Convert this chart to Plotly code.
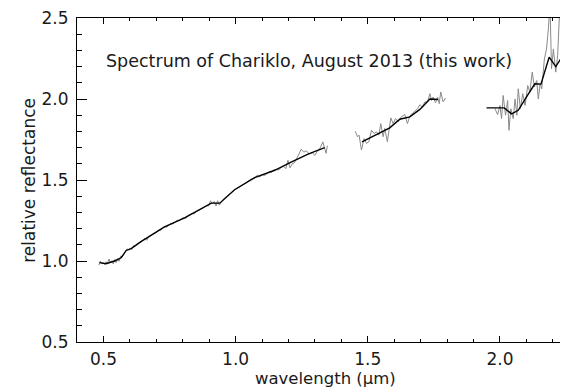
import plotly.graph_objects as go

# ---- data: visible spectrum (gray, raw) ----
vis_wl = [0.483, 0.488, 0.493, 0.499, 0.504, 0.510, 0.515, 0.521, 0.526, 0.532, 0.537, 0.543,
          0.548, 0.554, 0.559, 0.565, 0.571, 0.577, 0.583, 0.589, 0.595, 0.601, 0.607, 0.614,
          0.621, 0.628, 0.635, 0.642, 0.650, 0.657, 0.664, 0.671, 0.679, 0.686, 0.694, 0.701,
          0.709, 0.716, 0.724, 0.731, 0.739, 0.747, 0.755, 0.763, 0.771, 0.779, 0.787, 0.795,
          0.803, 0.811, 0.819, 0.827, 0.835, 0.843, 0.851, 0.859, 0.867, 0.875, 0.883, 0.891,
          0.898, 0.905, 0.912, 0.919, 0.926, 0.932, 0.938, 0.945, 0.953, 0.961, 0.969, 0.977,
          0.985, 0.993, 1.001, 1.010, 1.019, 1.028, 1.037, 1.046, 1.055, 1.064, 1.073, 1.082,
          1.091, 1.100, 1.109, 1.118, 1.127, 1.136, 1.145, 1.154, 1.163, 1.172, 1.181, 1.190,
          1.198, 1.206, 1.214, 1.222, 1.230, 1.238, 1.248, 1.258, 1.268, 1.278, 1.290, 1.300,
          1.310, 1.320, 1.330, 1.337, 1.342, 1.347]
vis_refl = [0.975, 1.000, 0.985, 0.990, 0.978, 0.995, 0.982, 1.012, 0.990, 1.002, 0.982, 1.010,
            0.990, 1.015, 0.998, 1.030, 1.025, 1.045, 1.060, 1.075, 1.068, 1.080, 1.072, 1.095,
            1.092, 1.108, 1.112, 1.118, 1.130, 1.140, 1.128, 1.150, 1.158, 1.165, 1.172, 1.178,
            1.192, 1.188, 1.205, 1.212, 1.208, 1.222, 1.232, 1.228, 1.240, 1.252, 1.248, 1.262,
            1.268, 1.262, 1.280, 1.285, 1.295, 1.290, 1.305, 1.312, 1.315, 1.325, 1.335, 1.342,
            1.340, 1.372, 1.352, 1.368, 1.340, 1.372, 1.345, 1.365, 1.380, 1.392, 1.405, 1.412,
            1.422, 1.435, 1.445, 1.452, 1.462, 1.470, 1.482, 1.494, 1.500, 1.508, 1.512, 1.530,
            1.518, 1.535, 1.528, 1.538, 1.552, 1.548, 1.562, 1.566, 1.562, 1.578, 1.585, 1.570,
            1.622, 1.575, 1.600, 1.605, 1.628, 1.655, 1.690, 1.672, 1.680, 1.660, 1.668, 1.652,
            1.680, 1.698, 1.735, 1.700, 1.665, 1.712]

# ---- data: H band (gray, raw) ----
h_wl = [1.453, 1.461, 1.467, 1.476, 1.486, 1.495, 1.504, 1.514, 1.524, 1.533, 1.542, 1.549,
        1.558, 1.564, 1.574, 1.587, 1.596, 1.605, 1.615, 1.627, 1.640, 1.650, 1.659, 1.668,
        1.678, 1.688, 1.697, 1.706, 1.716, 1.726, 1.735, 1.741, 1.747, 1.756, 1.764, 1.770,
        1.776, 1.785, 1.794]
h_refl = [1.801, 1.767, 1.777, 1.685, 1.756, 1.726, 1.736, 1.807, 1.787, 1.797, 1.777, 1.848,
          1.767, 1.818, 1.736, 1.883, 1.848, 1.879, 1.859, 1.890, 1.904, 1.848, 1.896, 1.910,
          1.920, 1.940, 1.965, 1.951, 1.982, 1.982, 2.033, 1.991, 2.012, 1.977, 2.012, 1.971,
          2.043, 1.982, 2.006]

# ---- data: K band (gray, raw) ----
k_wl = [1.981, 1.991, 2.000, 2.006, 2.012, 2.021, 2.029, 2.034, 2.041, 2.050, 2.057, 2.064,
        2.069, 2.077, 2.086, 2.095, 2.105, 2.113, 2.122, 2.130, 2.139, 2.145, 2.152, 2.158,
        2.168, 2.176, 2.183, 2.189, 2.195, 2.202, 2.211, 2.218, 2.227, 2.233, 2.240, 2.246,
        2.252, 2.259, 2.265, 2.271, 2.278]
k_refl = [1.940, 1.904, 1.960, 1.879, 2.022, 1.900, 1.991, 1.807, 1.940, 1.879, 2.000, 1.900,
          2.063, 1.940, 2.033, 1.960, 2.083, 2.043, 2.166, 2.074, 2.114, 2.000, 2.094, 2.063,
          2.247, 2.309, 2.431, 2.600, 2.186, 2.309, 2.166, 2.267, 2.600, 2.145, 2.600, 2.083,
          2.600, 2.104, 2.600, 2.145, 2.600]

# ---- data: smoothed spectrum (black) ----
vis_s_wl = [0.485, 0.510, 0.542, 0.567, 0.586, 0.605, 0.642, 0.731, 0.807, 0.870, 0.908, 0.940,
            0.996, 1.072, 1.148, 1.210, 1.274, 1.337]
vis_s_refl = [0.990, 0.983, 1.000, 1.020, 1.065, 1.077, 1.120, 1.210, 1.266, 1.320, 1.357, 1.357,
              1.440, 1.515, 1.560, 1.610, 1.660, 1.700]
h_s_wl = [1.478, 1.514, 1.583, 1.621, 1.659, 1.697, 1.735, 1.766]
h_s_refl = [1.736, 1.767, 1.822, 1.875, 1.890, 1.936, 2.000, 1.997]
k_s_wl = [1.949, 2.016, 2.044, 2.069, 2.107, 2.132, 2.155, 2.186, 2.211, 2.246, 2.262]
k_s_refl = [1.945, 1.945, 1.908, 1.930, 2.030, 2.094, 2.092, 2.258, 2.200, 2.288, 2.330]

x_ticks = [0.5, 1.0, 1.5, 2.0]
x_tick_labels = ["0.5", "1.0", "1.5", "2.0"]
y_ticks = [0.5, 1.0, 1.5, 2.0, 2.5]
y_tick_labels = ["0.5", "1.0", "1.5", "2.0", "2.5"]

GRAY = "#8a8a8a"
FONT = "DejaVu Sans"
TXT = "#1a1a1a"

fig = go.Figure()
for wl, rf in [(vis_wl, vis_refl), (h_wl, h_refl), (k_wl, k_refl)]:
    fig.add_trace(go.Scatter(x=wl, y=rf, mode="lines",
                             line=dict(color=GRAY, width=1), showlegend=False, hoverinfo="skip"))
for wl, rf in [(vis_s_wl, vis_s_refl), (h_s_wl, h_s_refl), (k_s_wl, k_s_refl)]:
    fig.add_trace(go.Scatter(x=wl, y=rf, mode="lines",
                             line=dict(color="black", width=1.4), showlegend=False))

fig.add_annotation(x=0.504, y=2.235, xref="x", yref="y", xanchor="left", yanchor="middle",
                   text="Spectrum of Chariklo, August 2013 (this work)", showarrow=False,
                   font=dict(family=FONT, size=17.5, color=TXT))
# axis titles
fig.add_annotation(x=0.5, y=-0.114, xref="paper", yref="paper", xanchor="center", yanchor="middle",
                   text="wavelength (μm)", showarrow=False,
                   font=dict(family=FONT, size=16.5, color=TXT))
fig.add_annotation(x=-0.097, y=0.5, xref="paper", yref="paper", xanchor="center", yanchor="middle",
                   text="relative reflectance", showarrow=False, textangle=-90,
                   font=dict(family=FONT, size=17, color=TXT))

axis_common = dict(showgrid=False, zeroline=False, showline=True, linecolor="black",
                   linewidth=1, mirror="ticks", ticks="inside", tickcolor="black",
                   tickwidth=1, automargin=False, ticklabeloverflow="allow",
                   tickfont=dict(family=FONT, size=17, color=TXT))

fig.update_xaxes(range=[0.4, 2.28], tickvals=x_ticks, ticktext=x_tick_labels, ticklen=6,
                 minor=dict(dtick=0.1, ticklen=3, tickcolor="black", ticks="inside"),
                 ticklabelstandoff=2, **axis_common)
fig.update_yaxes(range=[0.5, 2.5], tickvals=y_ticks, ticktext=y_tick_labels, ticklen=10,
                 minor=dict(dtick=0.1, ticklen=5, tickcolor="black", ticks="inside"),
                 ticklabelstandoff=4, **axis_common)

fig.update_layout(width=568, height=388, margin=dict(l=69, r=2, t=10, b=54, autoexpand=False),
                  plot_bgcolor="white", paper_bgcolor="white")

fig.write_html("out.html")
